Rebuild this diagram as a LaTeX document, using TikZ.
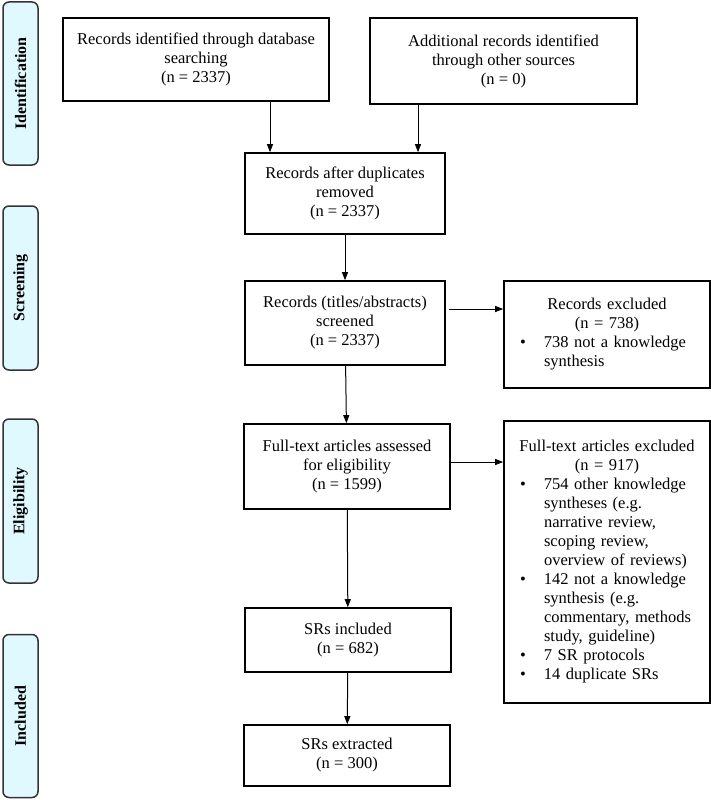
\documentclass[tikz,border=0pt]{standalone}
\usepackage{fontspec}
\setmainfont{Liberation Serif}
\usetikzlibrary{arrows.meta,positioning}

\newcommand{\bulline}[1]{\par\noindent\hangindent=36pt\hangafter=1\makebox[36pt][l]{\hspace{12pt}\textbullet}#1\par}

\tikzset{
  box/.style={draw,line width=1.6pt,align=center,inner sep=4pt,
    font=\rmfamily\fontsize{16.5}{19}\selectfont},
  side/.style={draw=black!80,line width=1.5pt,rounded corners=6pt,fill=blue!18!cyan!12,
    minimum height=35pt,rotate=90,font=\rmfamily\bfseries\fontsize{16}{18}\selectfont},
  arr/.style={-{Triangle[length=8pt,width=6pt]},line width=1pt}
}

\begin{document}
\begin{tikzpicture}[x=1pt,y=-1pt]
\useasboundingbox (0,0) rectangle (711,800);

% phase labels
\node[side,minimum width=163pt] (ident) at (20.5,83.5) {Identification};
\node[side,minimum width=164pt] (screen) at (20.5,288) {Screening};
\node[side,minimum width=164pt] (elig) at (20.5,501) {Eligibility};
\node[side,minimum width=163pt] (incl) at (20.5,716) {Included};

% main flow
\node[box,minimum width=266pt,minimum height=83pt] (db) at (196,59.5)
  {Records identified through database\\searching\\(n = 2337)};
\node[box,minimum width=267pt,minimum height=86pt] (other) at (503.5,61)
  {Additional records identified\\through other sources\\(n = 0)};
\node[box,minimum width=200pt,minimum height=81pt] (dup) at (345,193.5)
  {Records after duplicates\\removed\\(n = 2337)};
\node[box,minimum width=200pt,minimum height=84pt] (scr) at (345,323)
  {Records (titles/abstracts)\\screened\\(n = 2337)};
\node[box,minimum width=206pt,minimum height=85pt] (full) at (347,466.5)
  {Full-text articles assessed\\for eligibility\\(n = 1599)};
\node[box,minimum width=206pt,minimum height=64pt] (inc) at (348,640)
  {SRs included\\(n = 682)};
\node[box,minimum width=206pt,minimum height=61pt] (ext) at (347,755.5)
  {SRs extracted\\(n = 300)};

% exclusions
\node[box,text width=198pt,minimum height=107pt,align=left] (exc1) at (607,334.5)
  {{\centering Records excluded\\(n = 738)\par}
   \bulline{738 not a knowledge\newline synthesis}};
\node[box,text width=198pt,minimum height=282pt,align=left] (exc2) at (607,562)
  {{\centering Full-text articles excluded\\(n = 917)\par}
   \bulline{754 other knowledge\newline syntheses (e.g.\newline narrative review,\newline scoping review,\newline overview of reviews)}
   \bulline{142 not a knowledge\newline synthesis (e.g.\newline commentary, methods\newline study, guideline)}
   \bulline{7 SR protocols}
   \bulline{14 duplicate SRs}};

% connectors
\draw[arr] ([xshift=74pt]db.south) -- ([xshift=74pt]db.south |- dup.north);
\draw[arr] ([xshift=-85.5pt]other.south) -- ([xshift=-85.5pt]other.south |- dup.north);
\draw[arr] (dup) -- (scr);
\draw[arr] (scr) -- (full);
\draw[arr] (full) -- (inc);
\draw[arr] (inc) -- (ext);
\draw[arr] ([xshift=3pt,yshift=14pt]scr.east) -- ([yshift=14pt]scr.east -| exc1.west);
\draw[arr] ([yshift=4.5pt]full.east) -- ([yshift=4.5pt]full.east -| exc2.west);
\end{tikzpicture}
\end{document}
